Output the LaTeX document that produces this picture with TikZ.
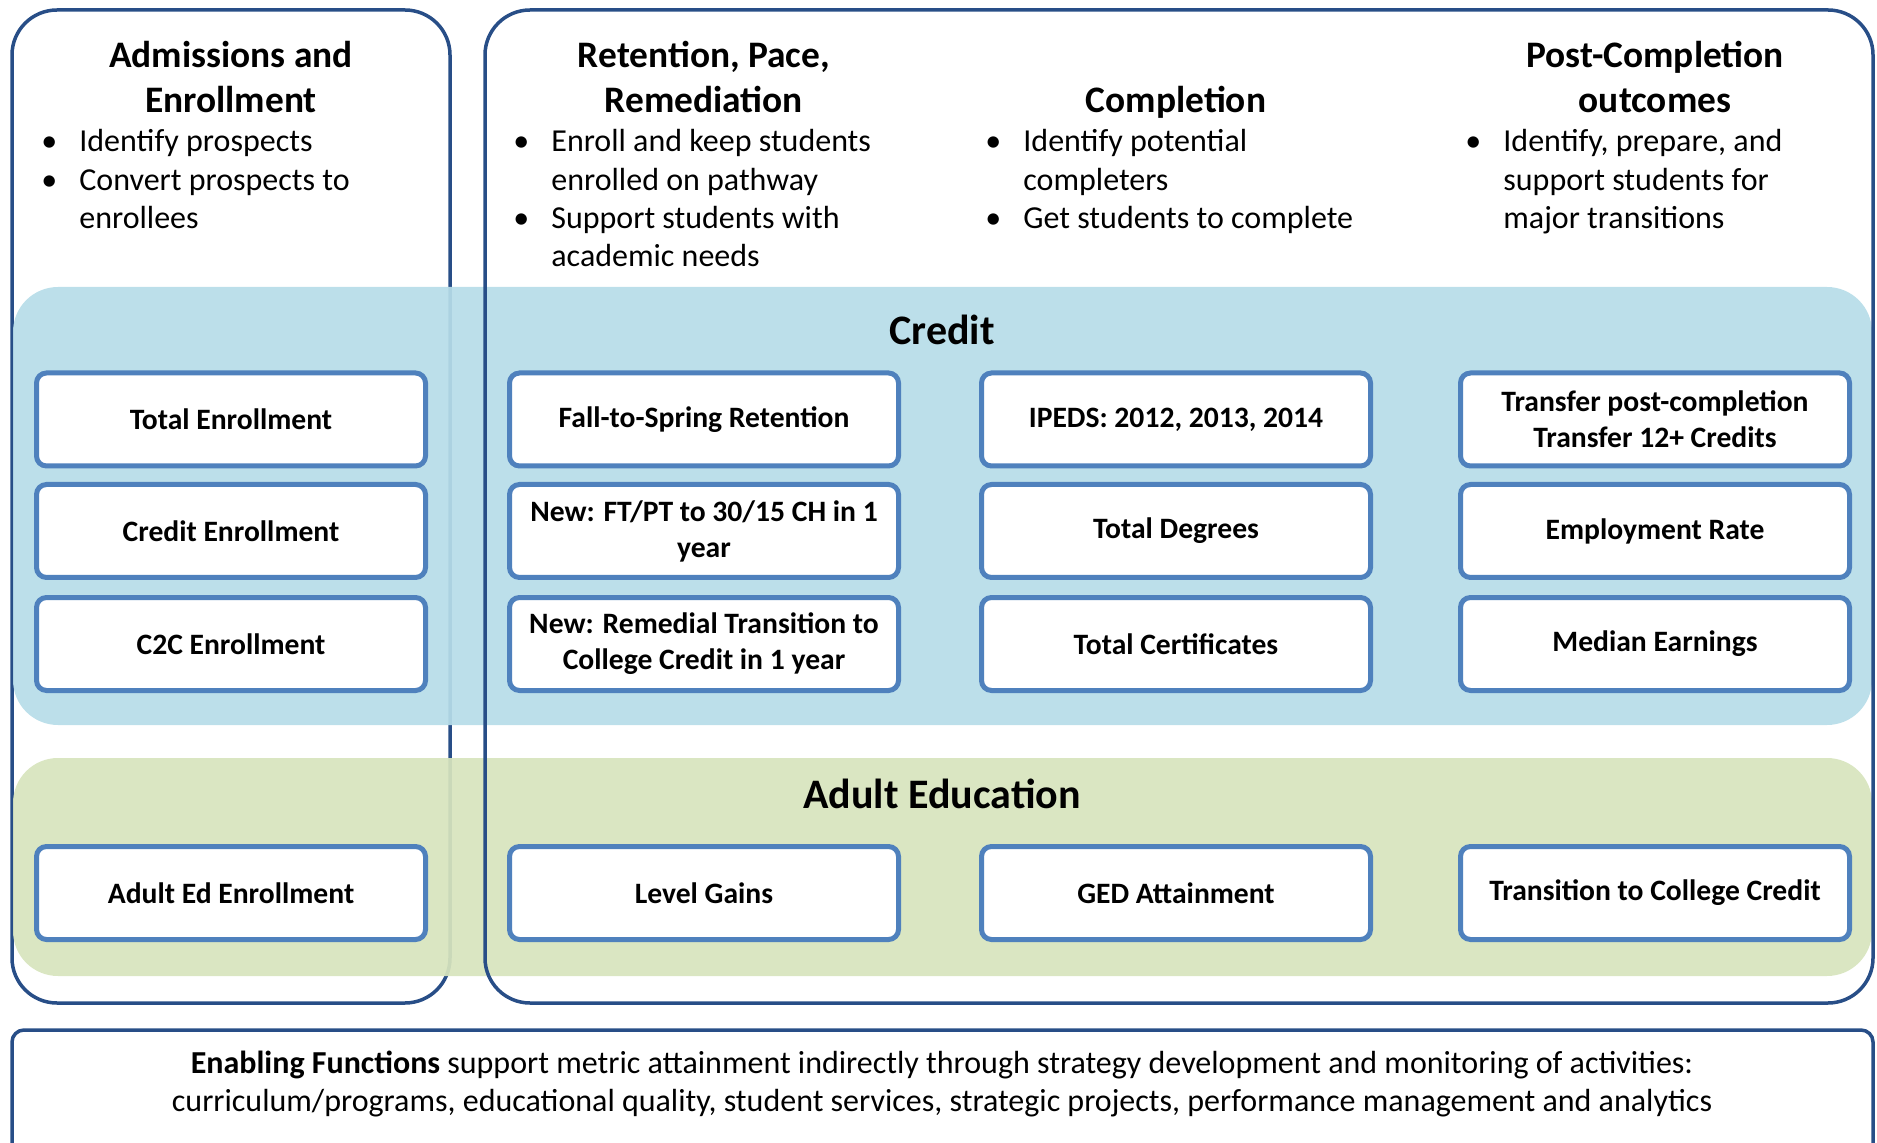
\documentclass[tikz,border=0pt]{standalone}
\usepackage{fontspec}
\setmainfont{Carlito}
\definecolor{outerblue}{RGB}{40,78,135}
\definecolor{innerblue}{RGB}{79,129,189}
\definecolor{creditband}{RGB}{183,221,232}
\definecolor{adultband}{RGB}{215,228,189}
\tikzset{
  stage/.style={draw=outerblue, line width=1.75pt, rounded corners=22.5pt},
  band/.style={fill opacity=0.93, rounded corners=22.5pt},
  metric/.style={draw=innerblue, line width=2.5pt, fill=white, rounded corners=5pt,
    minimum width=194.5pt, minimum height=46.5pt, inner sep=2pt, align=center,
    font=\fontsize{14.8}{18}\selectfont\bfseries},
  head/.style={anchor=base, inner sep=0pt, font=\fontsize{18.7}{22.5}\selectfont\bfseries},
  bullets/.style={anchor=base west, inner sep=0pt, font=\fontsize{16}{19.15}\selectfont},
  bandtitle/.style={anchor=base, inner sep=0pt, font=\fontsize{21}{25}\selectfont\bfseries},
  enabling/.style={anchor=base, inner sep=0pt, font=\fontsize{16}{19}\selectfont}
}
\newcommand\bp{\makebox[19pt][l]{\textbullet}}
\begin{document}
\begin{tikzpicture}[x=0.5pt,y=-0.5pt]
\useasboundingbox (0,0) rectangle (1877,1143);
\clip (0,0) rectangle (1877,1143);

% stage frames and the two program bands
\draw[stage] (12,10) rectangle (450,1003);
\fill[band, creditband] (13,287) rectangle (1872,725);
\fill[band, adultband] (13,758) rectangle (1872,976);
\draw[stage] (485,10) rectangle (1873,1003);
\draw[draw=outerblue, line width=1.75pt, rounded corners=6pt] (12,1030) rectangle (1873,1160);

% stage headings
\node[head] (hAdm) at (231,67.5) {\begin{tabular}[t]{@{}c@{}}Admissions and\\Enrollment\end{tabular}};
\node[head] (hRet) at (704,67.5) {\begin{tabular}[t]{@{}c@{}}Retention, Pace,\\Remediation\end{tabular}};
\node[head] (hCom) at (1176,112.5) {Completion};
\node[head] (hPost) at (1655,67.5) {\begin{tabular}[t]{@{}c@{}}Post-Completion\\outcomes\end{tabular}};

% stage goals
\node[bullets] (gAdm) at (41,152) {\begin{tabular}[t]{@{}l@{}l@{}}
\bp & Identify prospects\\
\bp & Convert prospects to\\
 & enrollees\end{tabular}};
\node[bullets] (gRet) at (513,152) {\begin{tabular}[t]{@{}l@{}l@{}}
\bp & Enroll and keep students\\
 & enrolled on pathway\\
\bp & Support students with\\
 & academic needs\end{tabular}};
\node[bullets] (gCom) at (985,152) {\begin{tabular}[t]{@{}l@{}l@{}}
\bp & Identify potential\\
 & completers\\
\bp & Get students to complete\end{tabular}};
\node[bullets] (gPost) at (1465,152) {\begin{tabular}[t]{@{}l@{}l@{}}
\bp & Identify, prepare, and\\
 & support students for\\
 & major transitions\end{tabular}};

% band titles
\node[bandtitle] (tCredit) at (942,344.5) {Credit};
\node[bandtitle] (tAdult) at (942,808) {Adult Education};

% credit metrics
\node[metric] (m11) at (231,419.5) {Total Enrollment};
\node[metric] (m12) at (231,531) {Credit Enrollment};
\node[metric] (m13) at (231,644) {C2C Enrollment};
\node[metric] (m21) at (704,419.5) {Fall-to-Spring Retention};
\node[metric] (m22) at (704,531) {New: FT/PT to 30/15 CH in 1\\year};
\node[metric] (m23) at (704,644) {New: Remedial Transition to\\College Credit in 1 year};
\node[metric] (m31) at (1176,419.5) {IPEDS: 2012, 2013, 2014};
\node[metric] (m32) at (1176,531) {Total Degrees};
\node[metric] (m33) at (1176,644) {Total Certificates};
\node[metric] (m41) at (1655,419.5) {Transfer post-completion\\Transfer 12+ Credits};
\node[metric] (m42) at (1655,531) {Employment Rate};
\node[metric] (m43) at (1655,644) {Median Earnings};

% adult education metrics
\node[metric] (a1) at (231,893) {Adult Ed Enrollment};
\node[metric] (a2) at (704,893) {Level Gains};
\node[metric] (a3) at (1176,893) {GED Attainment};
\node[metric] (a4) at (1655,893) {Transition to College Credit};

% enabling functions
\node[enabling] (enab) at (942,1073) {\begin{tabular}[t]{@{}c@{}}
\textbf{Enabling Functions} support metric attainment indirectly through strategy development and monitoring of activities:\\
curriculum/programs, educational quality, student services, strategic projects, performance management and analytics\end{tabular}};
\end{tikzpicture}
\end{document}
